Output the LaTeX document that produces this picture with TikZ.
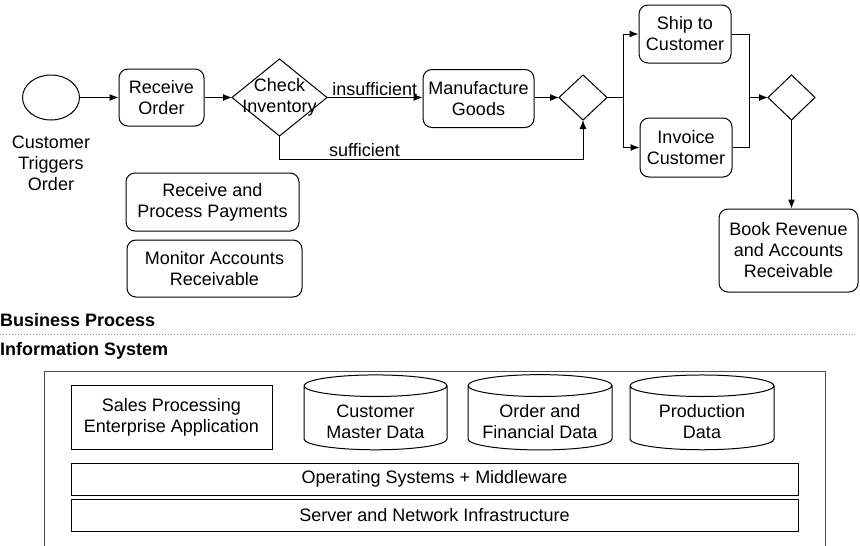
\documentclass[tikz,border=0pt]{standalone}
\usepackage{fontspec}
\setmainfont{Liberation Sans}
\usepackage{tikz}
\usetikzlibrary{shapes,arrows.meta,positioning,calc}

\newcommand{\dbtext}[1]{\raisebox{-6pt}[\height][\depth]{\begin{tabular}{@{}c@{}}#1\end{tabular}}}

\begin{document}
\begin{tikzpicture}[x=1pt,y=-1pt,
    font=\fontsize{18}{21}\selectfont,
    task/.style={draw,rounded corners=9pt,align=center,inner sep=0pt,line width=1pt},
    gate/.style={draw,diamond,inner sep=0pt,outer sep=0pt,line width=1pt},
    box/.style={draw,rectangle,align=center,inner sep=0pt,line width=1pt},
    db/.style={draw,cylinder,shape border rotate=90,aspect=0.22,inner sep=0pt,line width=1pt},
    lbl/.style={inner sep=1.5pt},
    flow/.style={-{Latex[length=9pt,width=7pt]},line width=1pt}]
    \useasboundingbox (0,0) rectangle (860,546);

    \node[draw,ellipse,line width=1pt,minimum width=57,minimum height=45,inner sep=0pt] (start) at (51,97.5) {};
    \node[align=center] (startlbl) at (51,163) {Customer\\Triggers\\Order};
    \node[task,minimum width=85,minimum height=57] (recv) at (161.5,97.5) {Receive\\Order};
    \node[gate,minimum width=95,minimum height=77] (chk) at (279.5,97.5) {};
    \node[align=center] (chklbl) at (chk) {Check\\Inventory};
    \node[task,minimum width=111,minimum height=58] (mfg) at (478.5,98.5) {Manufacture\\Goods};
    \node[gate,minimum width=48,minimum height=45] (gw1) at (583,97.5) {};
    \node[task,minimum width=92,minimum height=58] (ship) at (685,34) {Ship to\\Customer};
    \node[task,minimum width=92,minimum height=59] (inv) at (686,147.5) {Invoice\\Customer};
    \node[gate,minimum width=47,minimum height=45] (gw2) at (791.5,97.5) {};
    \node[task,minimum width=139,minimum height=83] (book) at (788.5,250.5) {Book Revenue\\and Accounts\\Receivable};
    \node[task,minimum width=173,minimum height=58] (pay) at (212.5,202) {Receive and\\Process Payments};
    \node[task,minimum width=175,minimum height=57] (mon) at (214.5,268.5) {Monitor Accounts\\Receivable};

    \coordinate (suf) at (583,159);
    \coordinate (fork) at (623,97.5);
    \coordinate (join) at (749,97.5);

    \draw[flow] (start) -- (recv);
    \draw[flow] (recv) -- (chk);
    \draw[flow] (chk) -- node[lbl,above] {insufficient} (chk -| mfg.west);
    \draw[flow] (chk.south) |- node[lbl,above,pos=0.64] {sufficient} (suf) -- (gw1.south);
    \draw[flow] (mfg.east |- gw1) -- (gw1);
    \draw[line width=1pt] (gw1.east) -- (fork);
    \draw[flow] (fork) |- (ship);
    \draw[flow] (fork) |- (inv);
    \draw[line width=1pt] (ship) -| (join);
    \draw[line width=1pt] (inv) -| (join);
    \draw[flow] (join) -- (gw2);
    \draw[flow] (gw2.south) -- (gw2.south |- book.north);

    \node[anchor=base west,inner sep=0pt,font=\fontsize{18}{21}\selectfont\bfseries] (bp) at (0,326) {Business Process};
    \draw[black!45,dotted,line width=1pt] (0,334) -- (855,334);
    \node[anchor=base west,inner sep=0pt,font=\fontsize{18}{21}\selectfont\bfseries] (is) at (0,355) {Information System};

    \draw[black!70,line width=1pt] (44,546) |- (825,371) -- (825,546);
    \node[box,minimum width=201,minimum height=64] (sales) at (171.5,417) {Sales Processing\\Enterprise Application};
    \node[db,minimum width=143,minimum height=74] (cust) at (375.5,418) {\dbtext{Customer\\Master Data}};
    \node[db,aspect=0.19,minimum width=144,minimum height=74] (ord) at (540,418) {\dbtext{Order and\\Financial Data}};
    \node[db,aspect=0.25,minimum width=144,minimum height=74] (prod) at (702,418) {\dbtext{Production\\Data}};
    \node[box,minimum width=727,minimum height=32] (os) at (434.5,479) {Operating Systems + Middleware};
    \node[box,minimum width=727,minimum height=32] (srv) at (434.5,515) {Server and Network Infrastructure};
\end{tikzpicture}
\end{document}
